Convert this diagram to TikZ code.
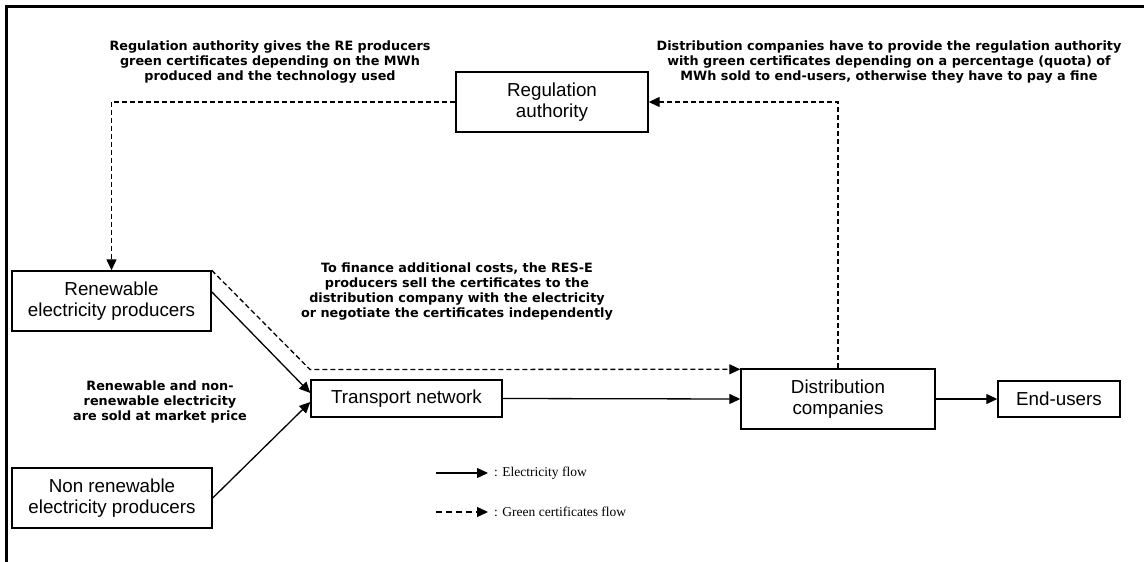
\documentclass[tikz,border=0pt]{standalone}
\usepackage{fontspec}
\setmainfont{Liberation Sans}
\newfontfamily\notefont{DejaVu Sans}
\newfontfamily\legendfont{Liberation Serif}
\usetikzlibrary{arrows.meta,calc}

\tikzset{
  block/.style={draw, line width=1.4pt, rectangle, inner sep=0pt, align=center,
    font=\fontsize{18.8}{21}\selectfont},
  note/.style={align=center, inner sep=0pt,
    font=\notefont\bfseries\fontsize{12.8}{15.3}\selectfont},
  flow/.style={line width=1.3pt, -{Triangle[length=11pt,width=10pt]}},
  cert/.style={flow, dash pattern=on 5pt off 3pt},
  legendtext/.style={anchor=west, inner sep=0pt, font=\legendfont\fontsize{13.5}{16}\selectfont}
}

\begin{document}
\begin{tikzpicture}[x=1pt, y=-1pt]
  \useasboundingbox (0,0) rectangle (1144,562);

  % outer frame: top and left edges only
  \draw[line width=3pt] (6.5,562) -- (6.5,6.5) -- (1144,6.5);

  % actors
  \node[block, minimum width=192pt, minimum height=60pt] (ra) at (552,102) {Regulation\\authority};
  \node[block, minimum width=199pt, minimum height=60pt] (ren) at (111.5,301) {Renewable\\electricity producers};
  \node[block, minimum width=200pt, minimum height=60pt] (nren) at (112,498) {Non renewable\\electricity producers};
  \node[block, minimum width=191pt, minimum height=37pt] (tn) at (406.5,398.5) {Transport network};
  \node[block, minimum width=194pt, minimum height=60pt] (dc) at (838,399) {Distribution\\companies};
  \node[block, minimum width=122pt, minimum height=36pt] (eu) at (1059,399) {End-users};

  % explanatory notes
  \node[note] (n1) at (270,62) {Regulation authority gives the RE producers\\green certificates depending on the MWh\\produced and the technology used};
  \node[note] (n2) at (889,62) {Distribution companies have to provide the regulation authority\\with green certificates depending on a percentage (quota) of\\MWh sold to end-users, otherwise they have to pay a fine};
  \node[note] (n3) at (457,291.5) {To finance additional costs, the RES-E\\producers sell the certificates to the\\distribution company with the electricity\\or negotiate the certificates independently};
  \node[note] (n4) at (160,402) {Renewable and non-\\renewable electricity\\are sold at market price};

  % green certificate flows
  \draw[cert] (ra.west) -| (ren.north);
  \draw[cert] (dc.north) |- (ra.east);
  \coordinate (bend) at (310,369.5);
  \draw[cert] (ren.north east) -- (bend) -- ([yshift=-1pt]dc.north west);

  % electricity flows
  \draw[flow] ($(ren.north east)!0.35!(ren.south east)$) -- ([yshift=5.5pt]tn.west);
  \draw[flow] (nren.east) -- ([yshift=-3.5pt]tn.west);
  \draw[flow] (tn.east) -- (dc.west);
  \draw[flow] (dc.east) -- (eu.west);

  % legend
  \coordinate (l1a) at (436,473);
  \coordinate (l1b) at (488,473);
  \coordinate (l2a) at (436,512);
  \coordinate (l2b) at (488,512);
  \draw[flow] (l1a) -- (l1b);
  \draw[flow, dash pattern=on 6pt off 4pt] (l2a) -- (l2b);
  \node[legendtext] (lt1) at (494,473) {: Electricity flow};
  \node[legendtext] (lt2) at (494,512) {: Green certificates flow};
\end{tikzpicture}
\end{document}
